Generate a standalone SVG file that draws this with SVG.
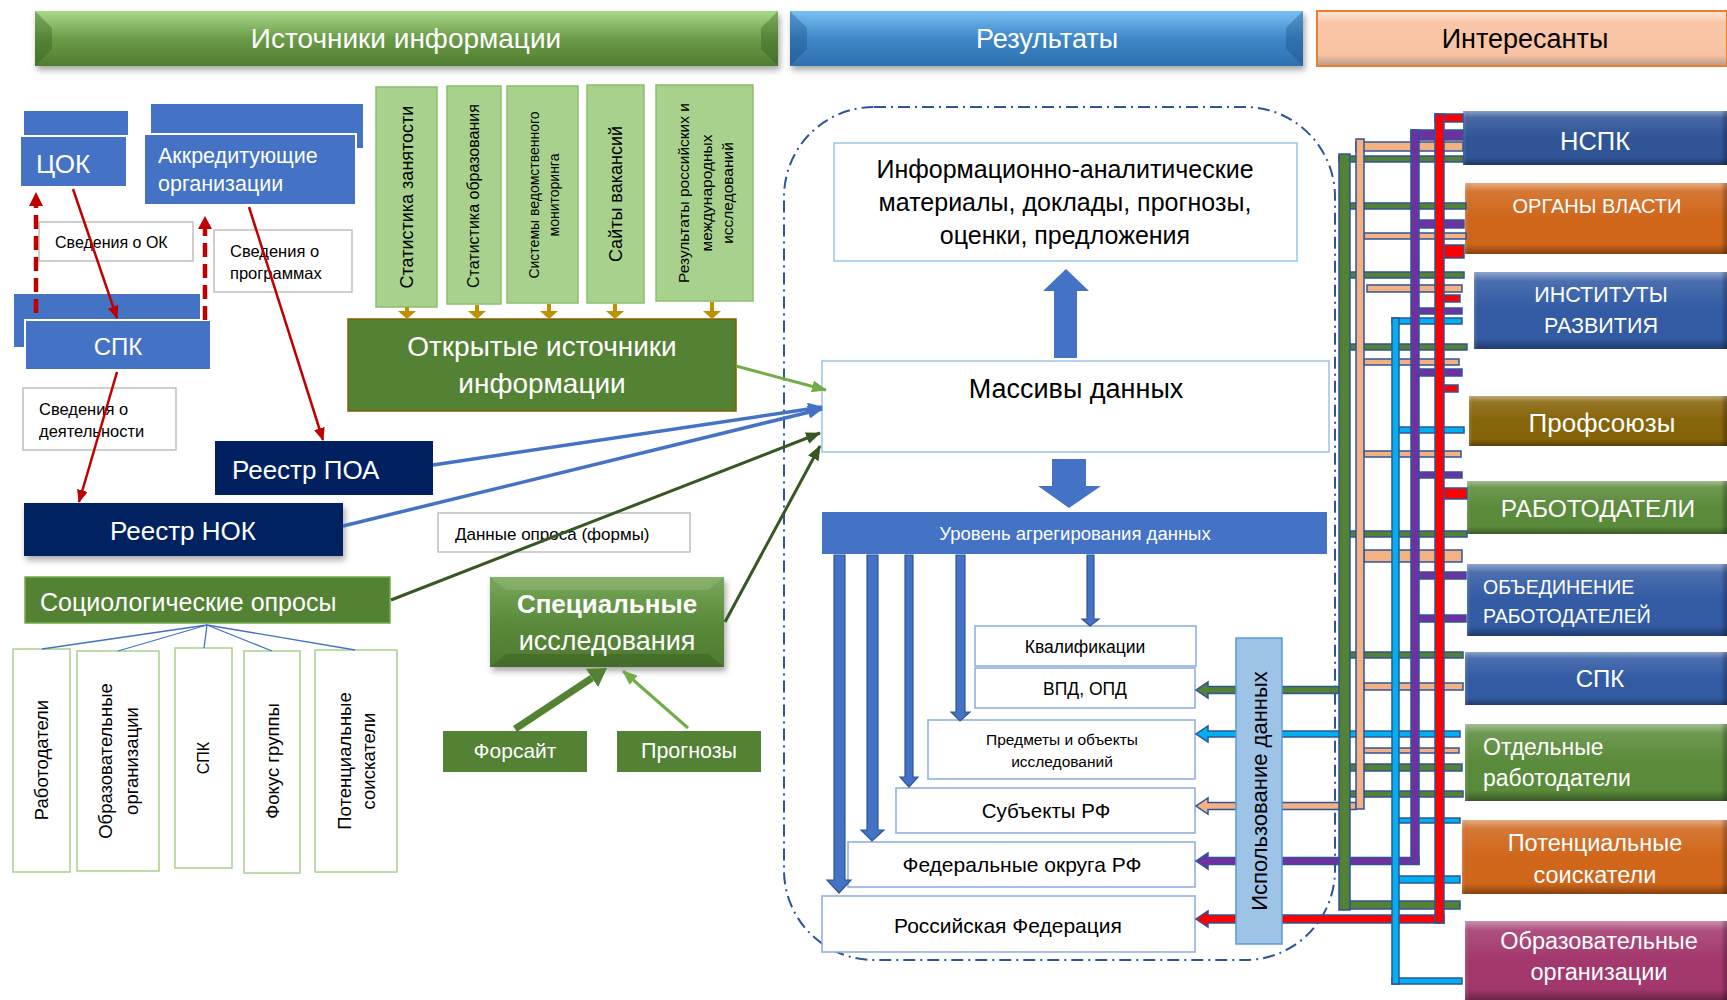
<svg xmlns="http://www.w3.org/2000/svg" width="1727" height="1000" viewBox="0 0 1727 1000">
<defs>
<style>
text{font-family:"Liberation Sans",Arial,sans-serif}
.w{fill:#fff}
.k{fill:#000}
.m{text-anchor:middle}
.bl{fill:#4472c4}
.navy{fill:#002060}
.dg{fill:#548235}
.lbox{fill:#fff;stroke:#bfbfbf;stroke-width:1.5}
.sbox{fill:#fff;stroke:#a9d18e;stroke-width:1.5}
.src{fill:#a9d18e;stroke:#8cbf6a;stroke-width:1.5}
.rbox{fill:#fff;stroke:#8faadc;stroke-width:1.5}
.bar{stroke:#2f5597;stroke-width:1.5}
.g{fill:#548235}.p{fill:#f4b183}.c{fill:#00b0f0}.v{fill:#7030a0}.r{fill:#ff0000}
.blk{fill:#4472c4;stroke:#2f5597;stroke-width:1.2}
.gold{fill:#bf9000}
</style>
<linearGradient id="bevV" x1="0" y1="0" x2="0" y2="1">
<stop offset="0" stop-color="#fff" stop-opacity=".45"/>
<stop offset=".12" stop-color="#fff" stop-opacity=".12"/>
<stop offset=".5" stop-color="#fff" stop-opacity="0"/>
<stop offset=".86" stop-color="#000" stop-opacity="0"/>
<stop offset="1" stop-color="#000" stop-opacity=".35"/>
</linearGradient>
<linearGradient id="bevH" x1="0" y1="0" x2="1" y2="0">
<stop offset="0" stop-color="#fff" stop-opacity=".15"/>
<stop offset=".025" stop-color="#000" stop-opacity="0"/>
<stop offset=".975" stop-color="#000" stop-opacity="0"/>
<stop offset="1" stop-color="#000" stop-opacity=".3"/>
</linearGradient>
<linearGradient id="hG" x1="0" y1="0" x2="0" y2="1">
<stop offset="0" stop-color="#a9d98a"/>
<stop offset=".5" stop-color="#6a9c48"/>
<stop offset="1" stop-color="#507d31"/>
</linearGradient>
<linearGradient id="hB" x1="0" y1="0" x2="0" y2="1">
<stop offset="0" stop-color="#79c0f4"/>
<stop offset=".5" stop-color="#3f87c9"/>
<stop offset="1" stop-color="#2e70ae"/>
</linearGradient>
<linearGradient id="hP" x1="0" y1="0" x2="0" y2="1">
<stop offset="0" stop-color="#fde9dc"/>
<stop offset=".2" stop-color="#f9c7a8"/>
<stop offset=".8" stop-color="#f8c3a2"/>
<stop offset="1" stop-color="#b59a8a"/>
</linearGradient>
<linearGradient id="sG" x1="0" y1="0" x2="0" y2="1">
<stop offset="0" stop-color="#78a85a"/>
<stop offset=".5" stop-color="#5a8a3b"/>
<stop offset="1" stop-color="#4e7b30"/>
</linearGradient>
<filter id="sh" x="-5%" y="-20%" width="110%" height="160%">
<feDropShadow dx="2" dy="4" stdDeviation="3" flood-color="#000" flood-opacity=".35"/>
</filter>
<marker id="mR" markerUnits="userSpaceOnUse" markerWidth="13" markerHeight="11" viewBox="0 0 13 11" refX="12" refY="5.5" orient="auto"><path d="M0,0 L13,5.5 L0,11 z" fill="#c00000"/></marker>
<marker id="mB" markerUnits="userSpaceOnUse" markerWidth="15" markerHeight="13" viewBox="0 0 15 13" refX="14" refY="6.5" orient="auto"><path d="M0,0 L15,6.5 L0,13 z" fill="#4472c4"/></marker>
<marker id="mLG" markerUnits="userSpaceOnUse" markerWidth="15" markerHeight="12" viewBox="0 0 15 12" refX="14" refY="6" orient="auto"><path d="M0,0 L15,6 L0,12 z" fill="#70ad47"/></marker>
<marker id="mDG" markerUnits="userSpaceOnUse" markerWidth="15" markerHeight="12" viewBox="0 0 15 12" refX="14" refY="6" orient="auto"><path d="M0,0 L15,6 L0,12 z" fill="#385723"/></marker>
<marker id="mF" markerUnits="userSpaceOnUse" markerWidth="18" markerHeight="22" viewBox="0 0 18 22" refX="0" refY="11" orient="auto"><path d="M0,0 L18,11 L0,22 z" fill="#548235"/></marker>
</defs>

<rect width="1727" height="1000" fill="#fff"/>

<!-- Headers -->
<g id="hdr-sources">
<rect x="35" y="11" width="743" height="55" fill="url(#hG)" filter="url(#sh)"/>
<polygon points="35,11 52,28 52,49 35,66" fill="#2f5a1a" opacity=".35"/>
<polygon points="778,11 761,28 761,49 778,66" fill="#2f5a1a" opacity=".35"/>
<text x="406" y="48" class="w m" font-size="28">Источники информации</text>
</g>
<g id="hdr-results">
<rect x="790" y="11" width="513" height="55" fill="url(#hB)" filter="url(#sh)"/>
<polygon points="790,11 807,28 807,49 790,66" fill="#1b4a7a" opacity=".35"/>
<polygon points="1303,11 1286,28 1286,49 1303,66" fill="#1b4a7a" opacity=".35"/>
<text x="1047" y="48" class="w m" font-size="27">Результаты</text>
</g>
<g id="hdr-stakeholders">
<rect x="1317" y="11" width="410" height="55" fill="url(#hP)" stroke="#ed7d31" stroke-width="2"/>
<text x="1525" y="48" class="k m" font-size="27">Интересанты</text>
</g>

<!-- Left sources -->
<g id="n-cok">
<rect x="24" y="111" width="104" height="24" class="bl"/>
<rect x="20" y="136" width="107" height="51" class="bl" stroke="#fff" stroke-width="2"/>
<text x="36" y="173" class="w" font-size="26">ЦОК</text>
</g>
<g id="n-accr">
<rect x="151" y="104" width="212" height="44" class="bl"/>
<rect x="144" y="134" width="212" height="71" class="bl" stroke="#fff" stroke-width="2"/>
<text x="158" y="163" class="w" font-size="21.5">Аккредитующие</text>
<text x="158" y="191" class="w" font-size="21.5">организации</text>
</g>
<g id="n-info-ok">
<rect x="39" y="222" width="154" height="39" class="lbox"/>
<text x="55" y="248" class="k" font-size="16">Сведения о ОК</text>
</g>
<g id="n-info-prog">
<rect x="214" y="230" width="138" height="62" class="lbox"/>
<text x="230" y="257" class="k" font-size="16.5">Сведения о</text>
<text x="230" y="279" class="k" font-size="16.5">программах</text>
</g>
<g id="n-spk-left">
<rect x="14" y="294" width="186" height="53" class="bl"/>
<rect x="25" y="320" width="186" height="50" class="bl" stroke="#fff" stroke-width="2"/>
<text x="118" y="355" class="w m" font-size="24">СПК</text>
</g>
<g id="n-info-act">
<rect x="23" y="388" width="153" height="62" class="lbox"/>
<text x="39" y="415" class="k" font-size="16.5">Сведения о</text>
<text x="39" y="437" class="k" font-size="16.5">деятельности</text>
</g>
<g id="n-reg-poa">
<rect x="215" y="441" width="218" height="54" class="navy"/>
<text x="232" y="479" class="w" font-size="26">Реестр ПОА</text>
</g>
<g id="n-reg-nok">
<rect x="24" y="503" width="319" height="53" class="navy" filter="url(#sh)"/>
<text x="183" y="540" class="w m" font-size="26">Реестр НОК</text>
</g>
<g id="n-socio">
<rect x="25" y="577" width="365" height="46" class="dg" stroke="#70ad47" stroke-width="1.5"/>
<text x="40" y="611" class="w" font-size="25">Социологические опросы</text>
</g>
<g id="n-s-empl">
<rect x="13" y="649" width="57" height="223" class="sbox"/>
<text transform="translate(48,760) rotate(-90)" class="k m" font-size="18.5">Работодатели</text>
</g>
<g id="n-s-edu">
<rect x="77" y="651" width="82" height="220" class="sbox"/>
<text transform="translate(112,761) rotate(-90)" class="k m" font-size="18.5">Образовательные</text>
<text transform="translate(138,761) rotate(-90)" class="k m" font-size="18.5">организации</text>
</g>
<g id="n-s-spk">
<rect x="175" y="648" width="57" height="220" class="sbox"/>
<text transform="translate(209,758) rotate(-90)" class="k m" font-size="16">СПК</text>
</g>
<g id="n-s-focus">
<rect x="244" y="651" width="56" height="222" class="sbox"/>
<text transform="translate(279,761) rotate(-90)" class="k m" font-size="18.5">Фокус группы</text>
</g>
<g id="n-s-pot">
<rect x="315" y="650" width="82" height="222" class="sbox"/>
<text transform="translate(351,761) rotate(-90)" class="k m" font-size="18.5">Потенциальные</text>
<text transform="translate(375,761) rotate(-90)" class="k m" font-size="18.5">соискатели</text>
</g>

<!-- Open source boxes -->
<g id="n-stat-empl">
<rect x="376" y="87" width="61" height="220" class="src"/>
<text transform="translate(413,197) rotate(-90)" class="k m" font-size="18">Статистика занятости</text>
</g>
<g id="n-stat-edu">
<rect x="447" y="86" width="54" height="218" class="src"/>
<text transform="translate(479,196) rotate(-90)" class="k m" font-size="16">Статистика образования</text>
</g>
<g id="n-monitoring">
<rect x="507" y="86" width="71" height="217" class="src"/>
<text transform="translate(539,195) rotate(-90)" class="k m" font-size="14">Системы ведомственного</text>
<text transform="translate(559,195) rotate(-90)" class="k m" font-size="14">мониторинга</text>
</g>
<g id="n-vacancies">
<rect x="587" y="85" width="57" height="218" class="src"/>
<text transform="translate(622,194) rotate(-90)" class="k m" font-size="18">Сайты вакансий</text>
</g>
<g id="n-research">
<rect x="656" y="85" width="97" height="216" class="src"/>
<text transform="translate(689,193) rotate(-90)" class="k m" font-size="15.5">Результаты российских и</text>
<text transform="translate(712,193) rotate(-90)" class="k m" font-size="15.5">международных</text>
<text transform="translate(733,193) rotate(-90)" class="k m" font-size="15.5">исследований</text>
</g>
<g id="n-open">
<rect x="348" y="319" width="388" height="92" class="dg" stroke="#7f6000" stroke-width="1.5"/>
<text x="542" y="356" class="w m" font-size="28">Открытые источники</text>
<text x="542" y="393" class="w m" font-size="28">информации</text>
</g>
<g id="n-survey-data">
<rect x="438" y="513" width="252" height="39" class="lbox"/>
<text x="455" y="540" class="k" font-size="17">Данные опроса (формы)</text>
</g>
<g id="n-special">
<rect x="490" y="577" width="234" height="90" fill="url(#sG)" filter="url(#sh)"/>
<polygon points="490,577 724,577 708,590 506,590" fill="#fff" opacity=".12"/>
<polygon points="490,667 724,667 708,654 506,654" fill="#000" opacity=".12"/>
<text x="607" y="613" class="w m" font-size="26" font-weight="bold">Специальные</text>
<text x="607" y="650" class="w m" font-size="27">исследования</text>
</g>
<g id="n-foresight">
<rect x="443" y="731" width="144" height="41" class="dg"/>
<text x="515" y="758" class="w m" font-size="21">Форсайт</text>
</g>
<g id="n-forecasts">
<rect x="617" y="731" width="144" height="41" class="dg"/>
<text x="689" y="758" class="w m" font-size="21.5">Прогнозы</text>
</g>

<!-- Results -->
<g id="n-results-frame">
<rect x="784" y="107" width="551" height="853" rx="90" ry="90" fill="none" stroke="#2f5597" stroke-width="2" stroke-dasharray="12 5 2 5"/>
</g>
<g id="n-analytics">
<rect x="834" y="143" width="463" height="118" fill="#fff" stroke="#9dc3e6" stroke-width="1.5"/>
<text x="1065" y="178" class="k m" font-size="25">Информационно-аналитические</text>
<text x="1065" y="211" class="k m" font-size="25">материалы, доклады, прогнозы,</text>
<text x="1065" y="244" class="k m" font-size="25">оценки, предложения</text>
</g>
<g id="n-arrays">
<rect x="822" y="361" width="507" height="91" fill="#fff" stroke="#9dc3e6" stroke-width="1.5"/>
<text x="1076" y="398" class="k m" font-size="27">Массивы данных</text>
</g>
<g id="n-level">
<rect x="822" y="512" width="505" height="42" class="bl"/>
<text x="1075" y="540" class="w m" font-size="18.5">Уровень агрегирования данных</text>
</g>
<g id="n-qual">
<rect x="975" y="626" width="221" height="40" class="rbox"/>
<text x="1085" y="653" class="k m" font-size="17.5">Квалификации</text>
</g>
<g id="n-vpd">
<rect x="975" y="668" width="220" height="40" class="rbox"/>
<text x="1085" y="695" class="k m" font-size="17.5">ВПД, ОПД</text>
</g>
<g id="n-subjects">
<rect x="928" y="720" width="267" height="59" class="rbox"/>
<text x="1062" y="745" class="k m" font-size="15.5">Предметы и объекты</text>
<text x="1062" y="767" class="k m" font-size="15.5">исследований</text>
</g>
<g id="n-regions">
<rect x="896" y="788" width="299" height="45" class="rbox"/>
<text x="1046" y="818" class="k m" font-size="20.5">Субъекты РФ</text>
</g>
<g id="n-fed-districts">
<rect x="848" y="842" width="347" height="45" class="rbox"/>
<text x="1022" y="872" class="k m" font-size="21">Федеральные округа РФ</text>
</g>
<g id="n-rf">
<rect x="822" y="896" width="373" height="56" class="rbox"/>
<text x="1008" y="933" class="k m" font-size="21">Российская Федерация</text>
</g>

<!-- Stakeholders -->
<g id="n-nspk">
<rect x="1463" y="111" width="264" height="54" fill="#2f5597"/>
<rect x="1463" y="111" width="264" height="54" fill="url(#bevV)"/>
<rect x="1463" y="111" width="264" height="54" fill="url(#bevH)"/>
<text x="1595" y="150" class="w m" font-size="25.5">НСПК</text>
</g>
<g id="n-gov">
<rect x="1465" y="183" width="262" height="71" fill="#d0661a"/>
<rect x="1465" y="183" width="262" height="71" fill="url(#bevV)"/>
<rect x="1465" y="183" width="262" height="71" fill="url(#bevH)"/>
<text x="1597" y="213" class="w m" font-size="20">ОРГАНЫ ВЛАСТИ</text>
</g>
<g id="n-dev">
<rect x="1474" y="272" width="253" height="77" fill="#325ba4"/>
<rect x="1474" y="272" width="253" height="77" fill="url(#bevV)"/>
<rect x="1474" y="272" width="253" height="77" fill="url(#bevH)"/>
<text x="1601" y="302" class="w m" font-size="21.5">ИНСТИТУТЫ</text>
<text x="1601" y="333" class="w m" font-size="21.5">РАЗВИТИЯ</text>
</g>
<g id="n-unions">
<rect x="1469" y="396" width="258" height="50" fill="#866409"/>
<rect x="1469" y="396" width="258" height="50" fill="url(#bevV)"/>
<rect x="1469" y="396" width="258" height="50" fill="url(#bevH)"/>
<text x="1602" y="432" class="w m" font-size="26">Профсоюзы</text>
</g>
<g id="n-employers">
<rect x="1467" y="481" width="260" height="53" fill="#5a8b3a"/>
<rect x="1467" y="481" width="260" height="53" fill="url(#bevV)"/>
<rect x="1467" y="481" width="260" height="53" fill="url(#bevH)"/>
<text x="1598" y="517" class="w m" font-size="24.5">РАБОТОДАТЕЛИ</text>
</g>
<g id="n-emp-assoc">
<rect x="1467" y="564" width="260" height="72" fill="#325ba4"/>
<rect x="1467" y="564" width="260" height="72" fill="url(#bevV)"/>
<rect x="1467" y="564" width="260" height="72" fill="url(#bevH)"/>
<text x="1483" y="594" class="w" font-size="19.5">ОБЪЕДИНЕНИЕ</text>
<text x="1483" y="623" class="w" font-size="19.5">РАБОТОДАТЕЛЕЙ</text>
</g>
<g id="n-spk-right">
<rect x="1465" y="652" width="262" height="53" fill="#325ba4"/>
<rect x="1465" y="652" width="262" height="53" fill="url(#bevV)"/>
<rect x="1465" y="652" width="262" height="53" fill="url(#bevH)"/>
<text x="1600" y="687" class="w m" font-size="24">СПК</text>
</g>
<g id="n-ind-emp">
<rect x="1465" y="724" width="262" height="77" fill="#5a8b3a"/>
<rect x="1465" y="724" width="262" height="77" fill="url(#bevV)"/>
<rect x="1465" y="724" width="262" height="77" fill="url(#bevH)"/>
<text x="1483" y="755" class="w" font-size="23">Отдельные</text>
<text x="1483" y="786" class="w" font-size="23">работодатели</text>
</g>
<g id="n-applicants">
<rect x="1462" y="820" width="265" height="74" fill="#d0661a"/>
<rect x="1462" y="820" width="265" height="74" fill="url(#bevV)"/>
<rect x="1462" y="820" width="265" height="74" fill="url(#bevH)"/>
<text x="1595" y="851" class="w m" font-size="23.5">Потенциальные</text>
<text x="1595" y="883" class="w m" font-size="23.5">соискатели</text>
</g>
<g id="n-edu-orgs">
<rect x="1465" y="921" width="262" height="79" fill="#a3386c"/>
<rect x="1465" y="921" width="262" height="79" fill="url(#bevV)"/>
<rect x="1465" y="921" width="262" height="79" fill="url(#bevH)"/>
<text x="1599" y="949" class="w m" font-size="23.5">Образовательные</text>
<text x="1599" y="980" class="w m" font-size="23.5">организации</text>
</g>

<!-- Connectors -->
<g id="connectors">
<!-- red solid -->
<line x1="73" y1="189" x2="117" y2="318" stroke="#c00000" stroke-width="2.5" marker-end="url(#mR)"/>
<line x1="249" y1="207" x2="323" y2="440" stroke="#c00000" stroke-width="2.5" marker-end="url(#mR)"/>
<line x1="117" y1="372" x2="79" y2="502" stroke="#c00000" stroke-width="2.5" marker-end="url(#mR)"/>
<!-- red dashed -->
<line x1="36" y1="313" x2="36" y2="205" stroke="#c00000" stroke-width="4.5" stroke-dasharray="14 7"/>
<polygon points="36,192 29,206 43,206" fill="#c00000"/>
<line x1="205" y1="320" x2="205" y2="229" stroke="#c00000" stroke-width="4.5" stroke-dasharray="14 7"/>
<polygon points="205,216 198,229 212,229" fill="#c00000"/>
<!-- gold -->
<path class="gold" d="M405,307 h4 v4 h7 l-9,8 l-9,-8 h7z"/>
<path class="gold" d="M475,305 h4 v6 h7 l-9,8 l-9,-8 h7z"/>
<path class="gold" d="M547,304 h4 v7 h7 l-9,8 l-9,-8 h7z"/>
<path class="gold" d="M613,304 h4 v7 h7 l-9,8 l-9,-8 h7z"/>
<path class="gold" d="M710,302 h4 v9 h7 l-9,8 l-9,-8 h7z"/>
<!-- to data arrays -->
<line x1="736" y1="366" x2="826" y2="390" stroke="#70ad47" stroke-width="3" marker-end="url(#mLG)"/>
<line x1="433" y1="465" x2="822" y2="407" stroke="#4472c4" stroke-width="3.5" marker-end="url(#mB)"/>
<line x1="343" y1="526" x2="822" y2="409" stroke="#4472c4" stroke-width="3.5" marker-end="url(#mB)"/>
<line x1="391" y1="600" x2="820" y2="433" stroke="#385723" stroke-width="3" marker-end="url(#mDG)"/>
<line x1="725" y1="622" x2="820" y2="446" stroke="#385723" stroke-width="3" marker-end="url(#mDG)"/>
<!-- socio tree -->
<g stroke="#4472c4" stroke-width="1.3">
<line x1="207" y1="625" x2="42" y2="649"/>
<line x1="207" y1="625" x2="118" y2="651"/>
<line x1="207" y1="625" x2="204" y2="648"/>
<line x1="207" y1="625" x2="272" y2="651"/>
<line x1="207" y1="625" x2="355" y2="650"/>
</g>
<!-- foresight / forecasts -->
<line x1="515" y1="729" x2="592" y2="678" stroke="#548235" stroke-width="7" marker-end="url(#mF)"/>
<line x1="688" y1="728" x2="623" y2="671" stroke="#70ad47" stroke-width="3" marker-end="url(#mLG)"/>
<!-- block arrows -->
<polygon points="1054,358 1054,291 1043,291 1066,269 1089,291 1077,291 1077,358" fill="#4472c4"/>
<polygon points="1052,459 1086,459 1086,486 1101,486 1069,508 1038,486 1052,486" fill="#4472c4"/>
<polygon class="blk" points="834,555 845,555 845,880 851,880 839,893 827,880 834,880"/>
<polygon class="blk" points="867,555 878,555 878,830 884,830 872,841 861,830 867,830"/>
<polygon class="blk" points="905,555 913,555 913,777 918,777 909,787 900,777 905,777"/>
<polygon class="blk" points="956,555 965,555 965,712 970,712 960,721 951,712 956,712"/>
<polygon class="blk" points="1087,555 1094,555 1094,619 1099,619 1090,626 1082,619 1087,619"/>
<!-- wiring: horizontals -->
<g class="bar">
<rect class="r" x="1435" y="114" width="28" height="8"/>
<rect class="v" x="1411" y="130" width="52" height="10"/>
<rect class="p" x="1356" y="142" width="107" height="9"/>
<rect class="g" x="1339" y="156" width="124" height="6"/>
<rect class="g" x="1350" y="203" width="116" height="6"/>
<rect class="v" x="1417" y="220" width="47" height="8"/>
<rect class="p" x="1364" y="233" width="102" height="6"/>
<rect class="r" x="1444" y="245" width="20" height="13"/>
<rect class="g" x="1350" y="272" width="114" height="6"/>
<rect class="p" x="1367" y="285" width="95" height="7"/>
<rect class="r" x="1444" y="295" width="16" height="7"/>
<rect class="v" x="1419" y="308" width="43" height="6"/>
<rect class="c" x="1392" y="318" width="70" height="6"/>
<rect class="g" x="1350" y="344" width="117" height="6"/>
<rect class="p" x="1364" y="359" width="95" height="6"/>
<rect class="v" x="1419" y="369" width="43" height="7"/>
<rect class="r" x="1444" y="385" width="14" height="7"/>
<rect class="c" x="1399" y="427" width="65" height="6"/>
<rect class="p" x="1364" y="451" width="97" height="6"/>
<rect class="v" x="1419" y="472" width="43" height="6"/>
<rect class="r" x="1444" y="488" width="23" height="11"/>
<rect class="g" x="1350" y="531" width="117" height="6"/>
<rect class="p" x="1364" y="550" width="98" height="12"/>
<rect class="v" x="1419" y="572" width="47" height="7"/>
<rect class="v" x="1419" y="615" width="47" height="7"/>
<rect class="g" x="1350" y="652" width="113" height="6"/>
<rect class="p" x="1364" y="683" width="99" height="7"/>
<rect class="p" x="1364" y="748" width="95" height="5"/>
<rect class="g" x="1350" y="764" width="112" height="7"/>
<rect class="g" x="1350" y="791" width="113" height="6"/>
<rect class="c" x="1399" y="818" width="61" height="5"/>
<rect class="c" x="1399" y="876" width="61" height="7"/>
<rect class="g" x="1350" y="901" width="110" height="8"/>
<rect class="c" x="1392" y="978" width="70" height="6"/>
<!-- arrows into result boxes -->
<polygon class="g" points="1339,686.5 1208,686.5 1208,682 1196,690 1208,698 1208,693.5 1339,693.5"/>
<polygon class="c" points="1460,731 1208,731 1208,726 1196,734 1208,742 1208,737 1460,737"/>
<polygon class="p" points="1356,802.5 1208,802.5 1208,798 1196,806 1208,814 1208,809.5 1356,809.5"/>
<polygon class="v" points="1419,857.5 1208,857.5 1208,853 1196,861 1208,869 1208,864.5 1419,864.5"/>
<polygon class="r" points="1444,915 1208,915 1208,911 1196,919 1208,927 1208,923 1444,923"/>
<!-- verticals -->
<rect class="g" x="1339" y="154" width="11" height="756"/>
<rect class="p" x="1356" y="139" width="8" height="670"/>
<rect class="c" x="1392" y="318" width="7" height="666"/>
<rect class="v" x="1411" y="130" width="8" height="734"/>
<rect class="r" x="1435" y="114" width="9" height="809"/>
</g>
</g>

<g id="n-usage">
<rect x="1236" y="638" width="46" height="306" fill="#9dc3e6" stroke="#5b9bd5" stroke-width="1.5"/>
<text transform="translate(1267,791) rotate(-90)" class="k m" font-size="22">Использование данных</text>
</g>
</svg>
